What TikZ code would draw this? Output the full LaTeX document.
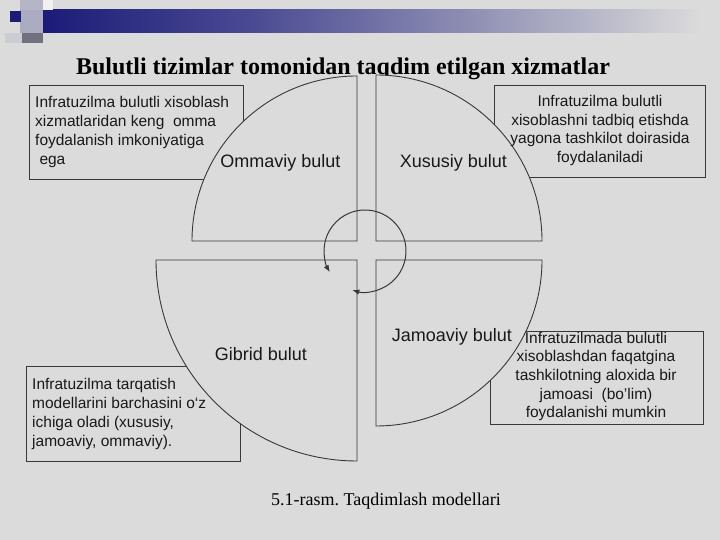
\documentclass[tikz,border=0pt]{standalone}
\usepackage{fontspec}
\setmainfont{Liberation Serif}
\setsansfont{Liberation Sans}
\usetikzlibrary{arrows.meta,positioning}

\definecolor{slidebg}{HTML}{DBDBDB}
\definecolor{linegray}{HTML}{383838}
\definecolor{navy}{HTML}{1C1C78}

\begin{document}
\begin{tikzpicture}[x=1pt, y=1pt,
    infobox/.style={draw=linegray, line width=0.9pt, inner sep=0pt},
    infotext/.style={inner sep=0pt, text=black!90, font=\sffamily\fontsize{15.5}{18.7}\selectfont},
    quarter/.style={draw=linegray, line width=0.9pt, fill=slidebg},
    qlabel/.style={inner sep=0pt, text=black!90, font=\sffamily\fontsize{18}{20}\selectfont},
    cyc/.style={draw=linegray, line width=1pt, -{Latex[length=7pt,width=5.5pt]}}]
  \fill[slidebg] (0,0) rectangle (720,540);
  \useasboundingbox (0,0) rectangle (720,540);

  % header bar and squares
  \shade[left color=navy, right color=navy!80!white] (43,507) rectangle (250,530);
  \shade[left color=navy!80!white, right color=navy!40!slidebg] (250,507) rectangle (470,530);
  \shade[left color=navy!40!slidebg, right color=slidebg] (470,507) rectangle (700,530);
  \fill[navy!20!slidebg] (20,540) rectangle (43,530);
  \fill[white!60!slidebg] (43,540) rectangle (53,530);
  \fill[navy!25!slidebg] (20,530) rectangle (43,507);
  \fill[navy!15!gray] (22,507) rectangle (43,497);
  \fill[navy!8!slidebg] (5,507) rectangle (22,497);
  \fill[navy] (10,529) rectangle (21,518);

  \node[font=\bfseries\fontsize{24}{28}\selectfont] (title) at (343,471) {Bulutli tizimlar tomonidan taqdim etilgan xizmatlar};

  % boxes under the quarters
  \node[infobox, minimum width=214, minimum height=94] (boxOmm) at (136,408) {};
  \node[infobox, minimum width=211, minimum height=92] (boxXus) at (599.5,409) {};
  \node[infobox, minimum width=214, minimum height=95] (boxGib) at (133,126.5) {};
  \node[infobox, minimum width=213, minimum height=93] (boxJam) at (596.5,162.5) {};

  % quarters
  \draw[quarter] (357,299) -- ++(-165,0) arc[start angle=180, end angle=90, radius=165] -- cycle;
  \draw[quarter] (376,299) -- ++(166,0) arc[start angle=0, end angle=90, radius=166] -- cycle;
  \draw[quarter] (357,280) -- ++(-201,0) arc[start angle=180, end angle=270, radius=201] -- cycle;
  \draw[quarter] (376,280) -- ++(166,0) arc[start angle=0, end angle=-90, radius=166] -- cycle;

  \node[qlabel] (ommaviy) at (280.5,377) {Ommaviy bulut};
  \node[qlabel] (xususiy) at (453.5,377) {Xususiy bulut};
  \node[qlabel] (gibrid) at (261,186) {Gibrid bulut};
  \node[qlabel] (jamoaviy) at (452,203) {Jamoaviy bulut};

  \node[infotext, align=left, anchor=west] (txtOmm) at (35,408) {Infratuzilma bulutli xisoblash\\xizmatlaridan keng\ \ omma\\foydalanish imkoniyatiga\\\ ega};
  \node[infotext, align=center] (txtXus) at (600,409.5) {Infratuzilma bulutli\\xisoblashni tadbiq etishda\\yagona tashkilot doirasida\\foydalaniladi};
  \node[infotext, align=left, anchor=west] (txtGib) at (32,126) {Infratuzilma tarqatish\\modellarini barchasini o‘z\\ichiga oladi (xususiy,\\jamoaviy, ommaviy).};
  \node[infotext, align=center] (txtJam) at (596,163.5) {Infratuzilmada bulutli\\xisoblashdan faqatgina\\tashkilotning aloxida bir\\jamoasi\ \ (bo’lim)\\foydalanishi mumkin};

  % circular arrows
  \coordinate (hub) at (365,289);
  \draw[cyc] ([shift={(30:41)}]hub) arc[start angle=30, end angle=211, radius=41];
  \draw[cyc] ([shift={(30:41)}]hub) arc[start angle=30, end angle=-108, radius=41];

  \node[font=\frenchspacing\fontsize{18}{20}\selectfont, anchor=base] (caption) at (386,34) {5.1-rasm. Taqdimlash modellari};
\end{tikzpicture}
\end{document}
